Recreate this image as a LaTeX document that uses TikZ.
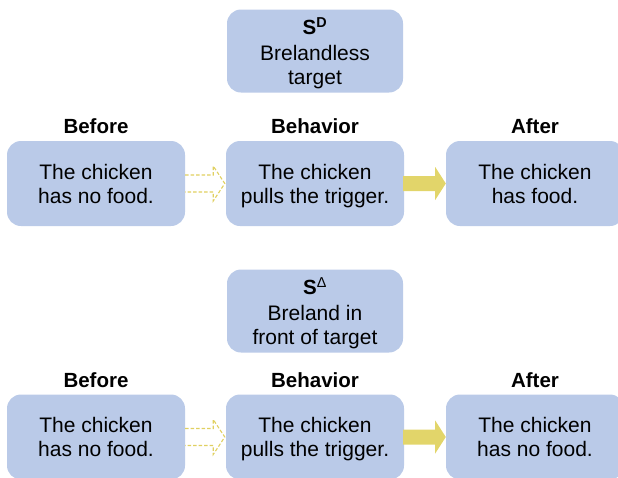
\documentclass[tikz,border=0pt]{standalone}
\usepackage{fontspec}
\setmainfont{Liberation Sans}
\usetikzlibrary{calc}
\definecolor{boxblue}{RGB}{186,202,232}
\definecolor{arrowgold}{RGB}{226,213,106}
\definecolor{dashgold}{RGB}{224,208,96}
% last line of a box without its descender, so every box centres alike
\newcommand{\nodepth}[1]{\raisebox{0pt}[\height][0pt]{#1}}
\tikzset{
  stage/.style={rectangle, rounded corners=14pt, fill=boxblue, draw=none,
    minimum width=178pt, minimum height=85pt, align=center, inner sep=0pt,
    font=\fontsize{21}{24}\selectfont},
  cue/.style={stage, minimum width=176pt, minimum height=83pt},
  heading/.style={font=\fontsize{20.5}{22}\selectfont\bfseries},
  hollowarrow/.style={draw=dashgold, dash pattern=on 3.5pt off 2pt, line width=1.1pt, line join=miter},
  solidarrow/.style={fill=arrowgold, draw=none}
}
\begin{document}
\begin{tikzpicture}[x=1pt,y=-1pt]
\useasboundingbox (0,0) rectangle (618,477);

% ---- first contingency: discriminative stimulus ----
\node[cue] (sd) at (315,51) {{\fontsize{20.5}{22}\selectfont\bfseries S\textsuperscript{D}}\\[2pt]Brelandless\\\nodepth{target}};

\node[heading] (h1) at (96,126) {Before};
\node[heading] (h2) at (315,126) {Behavior};
\node[heading] (h3) at (535,126) {After};

\node[stage] (a1) at (96,183.5) {The chicken\\\nodepth{has no food.}};
\node[stage] (a2) at (315,183.5) {The chicken\\\nodepth{pulls the trigger.}};
\node[stage] (a3) at (535,183.5) {The chicken\\\nodepth{has food.}};

\draw[hollowarrow] ($(a1.east)+(0,-8.5)$) -- ++(28,0) -- ++(0,-9)
  -- ($(a2.west)+(-1,0)$) -- ($(a1.east)+(28,17.5)$) -- ++(0,-9) -- ($(a1.east)+(0,8.5)$);
\fill[solidarrow] ($(a2.east)+(-1,-7.5)$) -- ++(32,0) -- ++(0,-9)
  -- ($(a3.west)+(0,0)$) -- ($(a2.east)+(31,16.5)$) -- ++(0,-9) -- ($(a2.east)+(-1,7.5)$) -- cycle;

% ---- second contingency: S-delta ----
\node[cue] (sdelta) at (315,311) {{\fontsize{20.5}{22}\selectfont\bfseries S\textsuperscript{\mdseries Δ}}\\[2pt]Breland in\\\nodepth{front of target}};

\node[heading] (k1) at (96,380) {Before};
\node[heading] (k2) at (315,380) {Behavior};
\node[heading] (k3) at (535,380) {After};

\node[stage] (b1) at (96,437) {The chicken\\\nodepth{has no food.}};
\node[stage] (b2) at (315,437) {The chicken\\\nodepth{pulls the trigger.}};
\node[stage] (b3) at (535,437) {The chicken\\\nodepth{has no food.}};

\draw[hollowarrow] ($(b1.east)+(0,-8.5)$) -- ++(28,0) -- ++(0,-9)
  -- ($(b2.west)+(-1,0)$) -- ($(b1.east)+(28,17.5)$) -- ++(0,-9) -- ($(b1.east)+(0,8.5)$);
\fill[solidarrow] ($(b2.east)+(-1,-7.5)$) -- ++(32,0) -- ++(0,-9)
  -- ($(b3.west)+(0,0)$) -- ($(b2.east)+(31,16.5)$) -- ++(0,-9) -- ($(b2.east)+(-1,7.5)$) -- cycle;
\end{tikzpicture}
\end{document}
